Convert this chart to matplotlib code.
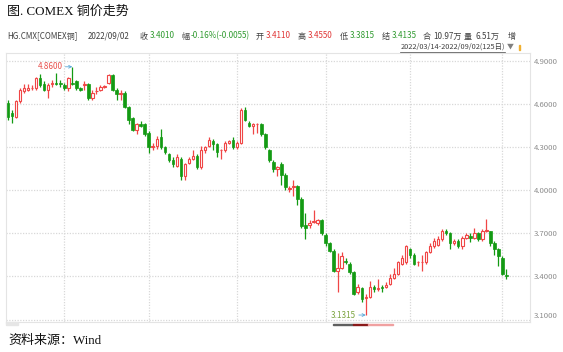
import numpy as np
import pandas as pd
import matplotlib.pyplot as plt
from matplotlib.patches import Rectangle

plt.rcParams['font.family'] = ['Noto Sans CJK SC', 'DejaVu Sans']

# COMEX copper daily candles, 2022/03/14 - 2022/09/02 (125 trading days)
dates = pd.bdate_range('2022-03-14', '2022-09-02')
opens = [4.61, 4.54, 4.51, 4.62, 4.69, 4.70, 4.71, 4.71, 4.78, 4.74,
         4.70, 4.74, 4.75, 4.75, 4.73, 4.71, 4.75, 4.76, 4.71, 4.73,
         4.74, 4.64, 4.69, 4.70, 4.72, 4.75, 4.80, 4.70, 4.67, 4.68,
         4.58, 4.50, 4.42, 4.46, 4.46, 4.40, 4.30, 4.31, 4.37, 4.30,
         4.25, 4.21, 4.17, 4.22, 4.10, 4.19, 4.22, 4.24, 4.16, 4.28,
         4.31, 4.34, 4.32, 4.28, 4.28, 4.33, 4.35, 4.30, 4.33, 4.56,
         4.47, 4.45, 4.46, 4.46, 4.39, 4.28, 4.20, 4.15, 4.18, 4.11,
         4.01, 4.02, 4.03, 3.94, 3.76, 3.76, 3.78, 3.77, 3.79, 3.69,
         3.63, 3.58, 3.44, 3.46, 3.51, 3.49, 3.43, 3.29, 3.32, 3.25,
         3.26, 3.33, 3.31, 3.33, 3.33, 3.35, 3.39, 3.42, 3.49, 3.50,
         3.59, 3.55, 3.50, 3.50, 3.50, 3.57, 3.61, 3.62, 3.66, 3.72,
         3.70, 3.63, 3.65, 3.61, 3.67, 3.68, 3.67, 3.70, 3.66, 3.72,
         3.72, 3.63, 3.59, 3.53, 3.411]
closes = [4.51, 4.52, 4.62, 4.70, 4.71, 4.71, 4.71, 4.78, 4.73, 4.70,
          4.73, 4.75, 4.74, 4.74, 4.71, 4.78, 4.74, 4.71, 4.70, 4.74,
          4.64, 4.68, 4.69, 4.72, 4.72, 4.80, 4.70, 4.67, 4.68, 4.58,
          4.49, 4.42, 4.46, 4.45, 4.39, 4.30, 4.31, 4.36, 4.30, 4.27,
          4.21, 4.18, 4.23, 4.10, 4.18, 4.22, 4.24, 4.16, 4.28, 4.30,
          4.35, 4.32, 4.27, 4.28, 4.33, 4.34, 4.30, 4.33, 4.56, 4.49,
          4.45, 4.46, 4.46, 4.39, 4.30, 4.21, 4.15, 4.16, 4.11, 4.02,
          4.01, 4.03, 3.94, 3.75, 3.74, 3.77, 3.78, 3.79, 3.70, 3.63,
          3.58, 3.44, 3.46, 3.54, 3.50, 3.43, 3.28, 3.33, 3.24, 3.26,
          3.33, 3.31, 3.32, 3.32, 3.34, 3.39, 3.42, 3.50, 3.53, 3.61,
          3.55, 3.49, 3.50, 3.50, 3.57, 3.61, 3.65, 3.66, 3.72, 3.70,
          3.63, 3.65, 3.61, 3.67, 3.69, 3.67, 3.70, 3.66, 3.72, 3.72,
          3.63, 3.59, 3.54, 3.42, 3.401]
highs = [4.63, 4.56, 4.63, 4.71, 4.74, 4.74, 4.73, 4.79, 4.81, 4.76,
         4.75, 4.77, 4.82, 4.77, 4.75, 4.79, 4.86, 4.77, 4.72, 4.76,
         4.75, 4.70, 4.72, 4.73, 4.73, 4.81, 4.81, 4.71, 4.70, 4.69,
         4.59, 4.51, 4.47, 4.48, 4.47, 4.41, 4.33, 4.38, 4.43, 4.31,
         4.26, 4.23, 4.25, 4.23, 4.19, 4.23, 4.28, 4.25, 4.31, 4.31,
         4.37, 4.36, 4.33, 4.29, 4.34, 4.35, 4.37, 4.34, 4.57, 4.58,
         4.48, 4.47, 4.47, 4.47, 4.40, 4.29, 4.21, 4.17, 4.20, 4.12,
         4.03, 4.07, 4.04, 3.95, 3.84, 3.79, 3.86, 3.80, 3.80, 3.70,
         3.64, 3.59, 3.56, 3.57, 3.53, 3.50, 3.44, 3.35, 3.33, 3.28,
         3.37, 3.34, 3.38, 3.34, 3.36, 3.42, 3.46, 3.51, 3.55, 3.62,
         3.60, 3.56, 3.51, 3.55, 3.58, 3.63, 3.67, 3.68, 3.73, 3.73,
         3.71, 3.66, 3.66, 3.68, 3.70, 3.70, 3.74, 3.71, 3.73, 3.80,
         3.72, 3.65, 3.60, 3.54, 3.455]
lows = [4.49, 4.47, 4.50, 4.61, 4.68, 4.69, 4.70, 4.70, 4.72, 4.69,
        4.64, 4.72, 4.73, 4.72, 4.70, 4.69, 4.73, 4.70, 4.69, 4.70,
        4.63, 4.63, 4.67, 4.69, 4.71, 4.74, 4.69, 4.63, 4.63, 4.57,
        4.46, 4.41, 4.39, 4.44, 4.38, 4.26, 4.28, 4.29, 4.29, 4.25,
        4.20, 4.16, 4.16, 4.07, 4.07, 4.18, 4.21, 4.15, 4.15, 4.26,
        4.30, 4.28, 4.23, 4.22, 4.27, 4.32, 4.29, 4.29, 4.32, 4.48,
        4.44, 4.39, 4.40, 4.38, 4.29, 4.20, 4.13, 4.10, 4.04, 4.00,
        3.99, 3.96, 3.90, 3.74, 3.66, 3.74, 3.77, 3.76, 3.69, 3.61,
        3.57, 3.43, 3.29, 3.45, 3.49, 3.42, 3.27, 3.28, 3.22, 3.1315,
        3.25, 3.29, 3.30, 3.29, 3.32, 3.34, 3.38, 3.41, 3.48, 3.49,
        3.53, 3.48, 3.47, 3.44, 3.49, 3.56, 3.60, 3.61, 3.65, 3.69,
        3.59, 3.62, 3.60, 3.59, 3.66, 3.64, 3.66, 3.65, 3.65, 3.71,
        3.61, 3.55, 3.47, 3.41, 3.3815]
yticks = [3.1, 3.4, 3.7, 4.0, 4.3, 4.6, 4.9]

RED = '#f04646'
GREEN = '#139a13'
W, H = 563, 352


def fx(px):
    return px / W


def fy(py):
    return 1 - py / H


fig = plt.figure(figsize=(W / 100, H / 100), dpi=100)
ax = fig.add_axes([fx(6), fy(322), fx(530) - fx(6), fy(53) - fy(322)])

o = np.array(opens)
c = np.array(closes)
h = np.array(highs)
l = np.array(lows)
x = np.arange(len(dates))
up = c >= o
col = np.where(up, RED, GREEN)

# wicks then bodies (red = hollow)
ax.vlines(x, l, h, colors=col, linewidth=0.9, zorder=2)
body = np.maximum(np.abs(c - o), 0.004)
ax.bar(x[up], body[up], bottom=np.minimum(o, c)[up], width=0.62,
       facecolor='white', edgecolor=RED, linewidth=0.8, zorder=3)
ax.bar(x[~up], body[~up], bottom=np.minimum(o, c)[~up], width=0.62,
       facecolor=GREEN, edgecolor=GREEN, linewidth=0.5, zorder=3)

ax.set_xlim(-0.5, 129.85)
ax.set_ylim(3.083, 4.956)

# grid: horizontal at ticks, vertical at month starts
for v in yticks:
    ax.axhline(v, color='#d8d8d8', lw=0.9, ls=(0, (1, 1.2)), zorder=0)
month_start = [i for i in range(1, len(dates)) if dates[i].month != dates[i - 1].month]
for i in month_start:
    ax.axvline(i, color='#d8d8d8', lw=0.9, ls=(0, (1, 1.2)), zorder=0)

ax.set_xticks([])
ax.yaxis.tick_right()
ax.set_yticks(yticks)
ax.set_yticklabels(['%.4f' % v for v in yticks])
ax.tick_params(axis='y', length=0, pad=3, labelsize=5.6, labelcolor='#8c8c8c')
ax.get_yticklabels()[0].set_verticalalignment('bottom')
for s in ax.spines.values():
    s.set_color('#e4e4e4')
    s.set_linewidth(0.8)

# max / min markers
imax = int(np.argmax(h))
imin = int(np.argmin(l))
ax.annotate('%.4f' % h[imax], xy=(imax, h[imax]), xytext=(-7, 0),
            textcoords='offset points', ha='right', va='center',
            fontsize=5.8, color='#e8504c',
            arrowprops=dict(arrowstyle='->', color='#58a8d8', lw=0.6,
                            shrinkA=0, shrinkB=0, mutation_scale=5))
ax.annotate('%.4f' % l[imin], xy=(imin, l[imin]), xytext=(-7, 0),
            textcoords='offset points', ha='right', va='center',
            fontsize=5.8, color='#79a33c',
            arrowprops=dict(arrowstyle='->', color='#58a8d8', lw=0.6,
                            shrinkA=0, shrinkB=0, mutation_scale=5))

# title and source
fig.text(fx(7), fy(12), '图. COMEX 铜价走势', fontsize=9.4, va='center',
         family=['Liberation Serif', 'Noto Sans CJK SC'], color='#111111')
fig.text(fx(8), fy(341), '资料来源：Wind', fontsize=9.4, va='center',
         family=['Liberation Serif', 'Noto Sans CJK SC'], color='#111111')

# quote header line
last = len(closes) - 1
header = [
    (7, 'HG.CMX[COMEX铜]', '#404040'),
    (88, dates[last].strftime('%Y/%m/%d'), '#404040'),
    (140, '收', '#404040'), (150, '%.4f' % closes[last], '#2f9a2f'),
    (181, '幅', '#404040'), (191, '-0.16%(-0.0055)', '#2f9a2f'),
    (256, '开', '#404040'), (266, '%.4f' % opens[last], '#e03535'),
    (297, '高', '#404040'), (308, '%.4f' % highs[last], '#e03535'),
    (340, '低', '#404040'), (350, '%.4f' % lows[last], '#2f9a2f'),
    (382, '结', '#404040'), (392, '3.4135', '#2f9a2f'),
    (423, '合', '#404040'), (433, '10.97万', '#404040'),
    (464, '量', '#404040'), (475, '6.51万', '#404040'),
    (508, '增', '#404040'),
]
for px, s, cc in header:
    fig.text(fx(px), fy(36), s, fontsize=5.8, va='center', color=cc)

fig.text(fx(505), fy(47), '%s-%s(%d日)' % (dates[0].strftime('%Y/%m/%d'),
                                           dates[last].strftime('%Y/%m/%d'), len(dates)),
         fontsize=5.3, va='center', ha='right', color='#404040')
fig.add_artist(plt.Line2D([fx(400), fx(505)], [fy(51.5), fy(51.5)], color='#404040', lw=0.5))
fig.text(fx(507), fy(47), '▼', fontsize=5, va='center', color='#808080')
fig.add_artist(Rectangle((fx(519), fy(50)), fx(1.2), fy(45) - fy(50), color='#f0b030'))

# bottom slider strip
fig.add_artist(Rectangle((fx(6), fy(325)), fx(12), fy(322.5) - fy(325), color='#e6e6e6'))
fig.add_artist(Rectangle((fx(333), fy(325)), fx(20), fy(323.5) - fy(325), color='#606060'))
fig.add_artist(Rectangle((fx(353), fy(325)), fx(15), fy(323.5) - fy(325), color='#8a1a1a'))
fig.add_artist(Rectangle((fx(368), fy(325)), fx(25), fy(323.5) - fy(325), color='#f0a0a0'))

fig.savefig('out.png', dpi=100)
